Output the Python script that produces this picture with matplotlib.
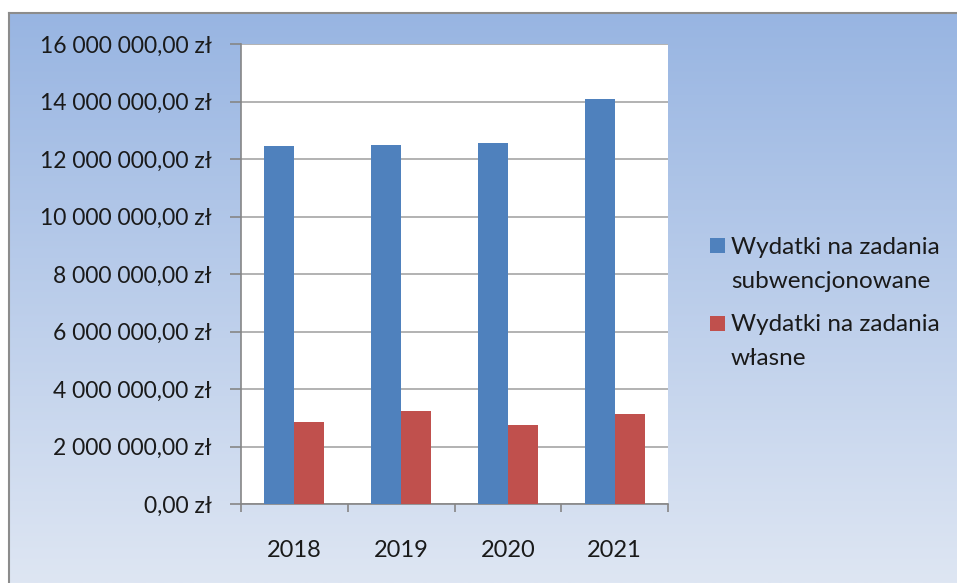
import numpy as np
import matplotlib
matplotlib.use("Agg")
import matplotlib.pyplot as plt
from matplotlib.patches import Rectangle
from matplotlib.container import BarContainer
from matplotlib.legend_handler import HandlerPatch, update_from_first_child
from matplotlib.ticker import FuncFormatter, FixedLocator

years = ["2018", "2019", "2020", "2021"]
subwencjonowane = [12450000, 12500000, 12540000, 14090000]
wlasne = [2860000, 3220000, 2740000, 3130000]
labels = ["Wydatki na zadania\nsubwencjonowane", "Wydatki na zadania\nwłasne"]
colors = ["#4f81bd", "#c0504d"]

plt.rcParams["font.family"] = ["Lato", "DejaVu Sans"]
FS = 16.5
LEG_FS = 17.5
LINESP = 1.74

fig = plt.figure(figsize=(9.57, 5.83), dpi=100)
fig.patch.set_facecolor("white")

# gradient background of the chart frame
bg = fig.add_axes([9 / 957, 0, 1 - 9 / 957, (583 - 13) / 583])
grad = np.linspace(0, 1, 256).reshape(-1, 1)
top = np.array([152, 181, 226]) / 255
bot = np.array([222, 230, 243]) / 255
img = top + (bot - top) * grad[:, :, None]
bg.imshow(img, aspect="auto", extent=[0, 1, 0, 1], origin="upper")
bg.set_xticks([])
bg.set_yticks([])
for side in ["right", "bottom"]:
    bg.spines[side].set_visible(False)
for side in ["left", "top"]:
    bg.spines[side].set_color("#8c8c8c")
    bg.spines[side].set_linewidth(1.5)

ax = fig.add_axes([241 / 957, 79 / 583, 427 / 957, 460 / 583])
ax.set_facecolor("white")
x = np.arange(len(years))
w = 0.28
ax.bar(x - w / 2, subwencjonowane, w, color=colors[0], label=labels[0], zorder=3)
ax.bar(x + w / 2, wlasne, w, color=colors[1], label=labels[1], zorder=3)

ax.set_xlim(-0.5, len(years) - 0.5)
ax.set_ylim(0, 16000000)
ax.set_yticks(np.arange(0, 16000001, 2000000))
ax.yaxis.set_major_formatter(FuncFormatter(
    lambda v, p: "{:,.2f} zł".format(v).replace(",", " ").replace(".", ",")))
ax.yaxis.grid(True, color="#a6a6a6", linewidth=1.2, zorder=0)

ax.set_xticks(x)
ax.set_xticklabels(years)
ax.xaxis.set_minor_locator(FixedLocator(np.arange(-0.5, len(years), 1.0)))
ax.tick_params(axis="x", which="major", length=0, pad=26, labelsize=17, colors="#1a1a1a")
ax.tick_params(axis="x", which="minor", length=6, width=1.2, color="#868686", direction="out")
ax.tick_params(axis="y", length=8, width=1.2, color="#868686", pad=13, labelsize=FS, labelcolor="#1a1a1a")

for side in ["top", "right"]:
    ax.spines[side].set_visible(False)
for side in ["left", "bottom"]:
    ax.spines[side].set_color("#868686")
    ax.spines[side].set_linewidth(1.2)


def top_square(legend, orig_handle, xdescent, ydescent, width, height, fontsize):
    # square next to the first line of a two-line label
    s = 10.9
    yc = 19.5
    return Rectangle((-xdescent, yc - s / 2), s, s)


leg = ax.legend(loc="center left", bbox_to_anchor=(688 / 957, 280 / 583),
                bbox_transform=fig.transFigure, frameon=False, fontsize=LEG_FS,
                handlelength=0.62, handletextpad=0.25, labelspacing=0.94,
                handler_map={BarContainer: HandlerPatch(patch_func=top_square,
                                                        update_func=update_from_first_child)})
for t in leg.get_texts():
    t.set_color("#1a1a1a")
    t.set_linespacing(LINESP)

fig.savefig("out.png", dpi=100)
